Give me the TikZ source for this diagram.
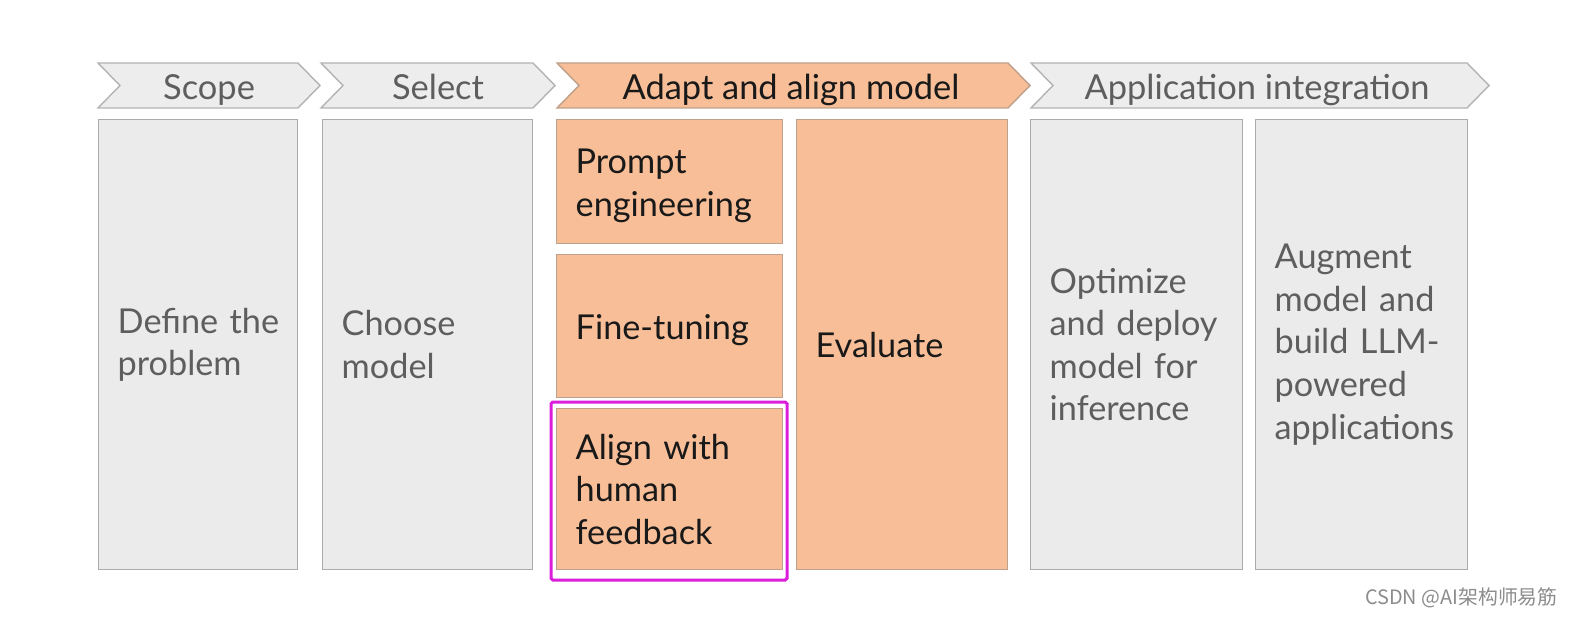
\documentclass[tikz,border=0pt]{standalone}
\usepackage{fontspec}
\setmainfont{Lato}
\newfontfamily\cjkfont{Noto Sans CJK SC}
\usetikzlibrary{calc}

\definecolor{chevgray}{HTML}{EDEDED}
\definecolor{chevline}{HTML}{B3B3B3}
\definecolor{boxgray}{HTML}{EBEBEB}
\definecolor{boxline}{HTML}{ABABAB}
\definecolor{peach}{HTML}{F8BE97}
\definecolor{peachline}{HTML}{BFA08A}
\definecolor{textgray}{HTML}{5E5E5E}
\definecolor{hilite}{HTML}{DB1EDB}

% one chevron of the stage bar: left edge, tip
\def\chevron[#1](#2,#3){\draw[#1] (#2,63) -- (#3-22,63) -- (#3,85.5) -- (#3-22,108) -- (#2,108) -- (#2+22,85.5) -- cycle;}

\tikzset{
  stagelabel/.style={font=\fontsize{19.6}{23.5}\selectfont, inner sep=0pt, anchor=base},
  stepbox/.style={rectangle, draw, line width=0.8pt, anchor=north west, align=left,
    inner xsep=0.38cm, inner ysep=0pt, font=\fontsize{19.5}{24.2}\selectfont},
  graybox/.style={stepbox, fill=boxgray, draw=boxline, text=textgray},
  peachbox/.style={stepbox, fill=peach, draw=peachline, text=black!90},
}

\begin{document}
\begin{tikzpicture}[x=0.02cm, y=-0.02cm]
			%%%%% START %%%%%
			
			\fill[white] (0,0) rectangle (1574,618);
			\useasboundingbox (0,0) rectangle (1574,618);
			
			% stage bar
			\chevron[fill=chevgray, draw=chevline, line width=0.8pt](98,320)
			\chevron[fill=chevgray, draw=chevline, line width=0.8pt](321,555)
			\chevron[fill=peach, draw=peachline, line width=0.8pt](557,1030)
			\chevron[fill=chevgray, draw=chevline, line width=0.8pt](1031,1489)
			
			\node[stagelabel, text=textgray] (scope) at (209,100) {Scope};
			\node[stagelabel, text=textgray] (select) at (438,100) {Select};
			\node[stagelabel, text=black!90] (adapt) at (791,100) {Adapt and align model};
			\node[stagelabel, text=textgray] (integrate) at (1257,100) {Application integration};
			
			% scope and select
			\node[graybox, minimum width=3.98cm, minimum height=9cm, text width=3.22cm] (define) at (98,119) {Define~the\\problem};
			\node[graybox, minimum width=4.2cm, minimum height=9cm, text width=3.44cm] (choose) at (322,119) {Choose\\model};
			
			% adapt and align
			\node[peachbox, minimum width=4.52cm, minimum height=2.48cm, text width=3.76cm, text height=19pt] (prompt) at (556,119) {Prompt\\engineering};
			\node[peachbox, minimum width=4.52cm, minimum height=2.86cm, text width=3.76cm, text height=19pt] (finetune) at (556,254) {Fine-tuning};
			\node[peachbox, minimum width=4.52cm, minimum height=3.22cm, text width=3.76cm] (rlhf) at (556,408) {Align with\\human\\feedback};
			\node[peachbox, minimum width=4.22cm, minimum height=9cm, text width=3.46cm] (evaluate) at (796,119) {Evaluate};
			
			\draw[hilite, line width=0.06cm, rounded corners=1pt] (551,402) rectangle (787,580);
			
			% application integration
			\node[graybox, minimum width=4.24cm, minimum height=9cm, text width=3.48cm] (optimize) at (1030,119) {Optimize\\and deploy\\model for\\inference};
			\node[graybox, minimum width=4.24cm, minimum height=9cm, text width=3.48cm] (augment) at (1255,119) {Augment\\model and\\build LLM-\\powered\\applications};
			
			\node[anchor=east, text=black!45, inner sep=0pt, font=\cjkfont\fontsize{11.3}{13}\selectfont] (mark) at (1558,598) {CSDN @AI架构师易筋};
			
			%%%%% END %%%%%
\end{tikzpicture}
\end{document}
